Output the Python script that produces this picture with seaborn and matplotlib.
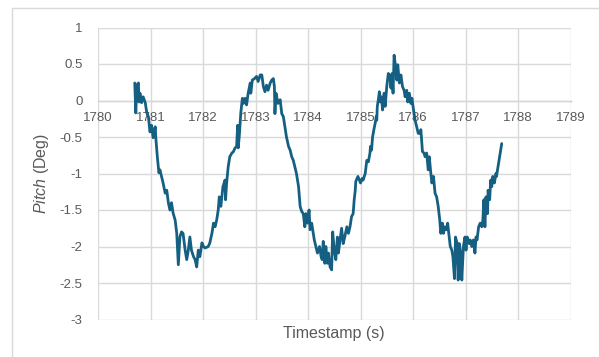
import matplotlib
matplotlib.use('Agg')
import matplotlib.pyplot as plt
import seaborn as sns
from matplotlib.lines import Line2D

# Pitch readings (timestamp in s, pitch in degrees)
timestamps = [
    1780.70, 1780.72, 1780.74, 1780.77, 1780.78, 1780.80, 1780.83, 1780.86, 1780.90, 1780.93,
    1780.96, 1780.99, 1781.02, 1781.05, 1781.09, 1781.10, 1781.13, 1781.16, 1781.18, 1781.21,
    1781.24, 1781.28, 1781.31, 1781.34, 1781.37, 1781.40, 1781.43, 1781.47, 1781.50, 1781.53,
    1781.56, 1781.59, 1781.62, 1781.66, 1781.69, 1781.72, 1781.75, 1781.78, 1781.82, 1781.85,
    1781.88, 1781.91, 1781.94, 1781.98, 1782.01, 1782.04, 1782.10, 1782.13, 1782.17, 1782.20,
    1782.23, 1782.26, 1782.29, 1782.31, 1782.34, 1782.38, 1782.42, 1782.43, 1782.45, 1782.48,
    1782.51, 1782.55, 1782.58, 1782.61, 1782.64, 1782.66, 1782.67, 1782.69, 1782.72, 1782.75,
    1782.77, 1782.80, 1782.83, 1782.86, 1782.90, 1782.91, 1782.94, 1782.98, 1783.02, 1783.05,
    1783.09, 1783.12, 1783.15, 1783.18, 1783.21, 1783.24, 1783.28, 1783.31, 1783.34, 1783.36,
    1783.37, 1783.39, 1783.43, 1783.47, 1783.50, 1783.53, 1783.56, 1783.59, 1783.63, 1783.66,
    1783.69, 1783.72, 1783.75, 1783.78, 1783.82, 1783.85, 1783.88, 1783.91, 1783.94, 1783.96,
    1783.99, 1784.02, 1784.04, 1784.07, 1784.10, 1784.12, 1784.15, 1784.18, 1784.22, 1784.25,
    1784.27, 1784.29, 1784.32, 1784.34, 1784.37, 1784.39, 1784.42, 1784.45, 1784.47, 1784.50,
    1784.53, 1784.56, 1784.58, 1784.61, 1784.64, 1784.67, 1784.70, 1784.74, 1784.77, 1784.80,
    1784.83, 1784.86, 1784.88, 1784.90, 1784.91, 1784.95, 1784.98, 1785.00, 1785.03, 1785.05,
    1785.09, 1785.12, 1785.15, 1785.18, 1785.19, 1785.21, 1785.23, 1785.26, 1785.28, 1785.30,
    1785.31, 1785.32, 1785.34, 1785.36, 1785.38, 1785.40, 1785.42, 1785.45, 1785.47, 1785.50,
    1785.53, 1785.56, 1785.58, 1785.60, 1785.62, 1785.64, 1785.67, 1785.69, 1785.71, 1785.74,
    1785.77, 1785.80, 1785.83, 1785.85, 1785.88, 1785.90, 1785.93, 1785.96, 1785.98, 1786.01,
    1786.04, 1786.07, 1786.10, 1786.13, 1786.15, 1786.18, 1786.21, 1786.23, 1786.26, 1786.29,
    1786.31, 1786.34, 1786.36, 1786.39, 1786.42, 1786.45, 1786.48, 1786.51, 1786.53, 1786.56,
    1786.58, 1786.61, 1786.64, 1786.66, 1786.69, 1786.71, 1786.74, 1786.76, 1786.79, 1786.81,
    1786.84, 1786.86, 1786.88, 1786.91, 1786.93, 1786.96, 1786.99, 1787.01, 1787.03, 1787.07,
    1787.09, 1787.12, 1787.15, 1787.18, 1787.20, 1787.22, 1787.25, 1787.28, 1787.31, 1787.33,
    1787.35, 1787.37, 1787.39, 1787.42, 1787.43, 1787.46, 1787.48, 1787.50, 1787.52, 1787.55,
    1787.58, 1787.59, 1787.63, 1787.66, 1787.69,
]

pitch = [
    0.24, -0.17, 0.21, 0.24, -0.02, 0.10, -0.03, 0.05, -0.03, -0.17,
    -0.22, -0.43, -0.34, -0.51, -0.36, -0.50, -0.77, -0.99, -0.95, -1.04,
    -1.13, -1.27, -1.23, -1.40, -1.50, -1.40, -1.54, -1.64, -1.82, -2.25,
    -1.87, -1.80, -1.82, -2.05, -2.18, -2.05, -1.87, -2.05, -2.14, -2.18,
    -2.28, -2.05, -2.14, -1.95, -2.00, -2.02, -2.00, -1.95, -1.82, -1.68,
    -1.73, -1.64, -1.50, -1.32, -1.45, -1.18, -1.09, -1.36, -1.13, -0.91,
    -0.77, -0.72, -0.70, -0.65, -0.63, -0.34, -0.65, -0.50, -0.17, 0.03,
    -0.04, 0.03, -0.06, 0.10, 0.24, 0.10, 0.28, 0.30, 0.33, 0.26,
    0.35, 0.35, 0.19, 0.12, 0.21, 0.14, 0.24, 0.28, 0.30, 0.19,
    -0.18, 0.10, -0.04, 0.01, -0.18, -0.22, -0.36, -0.50, -0.63, -0.68,
    -0.77, -0.82, -0.91, -1.00, -1.18, -1.45, -1.52, -1.55, -1.73, -1.55,
    -1.68, -1.50, -1.77, -1.68, -1.82, -1.91, -2.00, -2.09, -2.00, -2.14,
    -2.18, -1.93, -2.23, -2.00, -2.23, -2.09, -2.28, -2.32, -1.80, -2.05,
    -2.18, -1.87, -2.09, -1.91, -1.75, -1.96, -1.87, -1.73, -1.82, -1.73,
    -1.59, -1.55, -1.36, -1.23, -1.11, -1.04, -1.09, -1.13, -1.07, -1.09,
    -1.00, -0.82, -0.84, -0.72, -0.63, -0.68, -0.50, -0.38, -0.31, -0.22,
    -0.27, -0.08, 0.01, 0.12, -0.02, 0.05, -0.13, 0.10, -0.08, 0.19,
    0.37, 0.33, 0.17, 0.37, 0.10, 0.62, 0.46, 0.28, 0.49, 0.24,
    0.35, 0.19, 0.14, 0.05, 0.14, -0.02, 0.10, -0.04, 0.03, -0.13,
    -0.27, -0.36, -0.45, -0.45, -0.40, -0.70, -0.72, -0.77, -0.72, -0.95,
    -0.77, -1.00, -1.13, -1.04, -1.27, -1.32, -1.45, -1.64, -1.82, -1.68,
    -1.82, -1.73, -1.77, -1.68, -1.87, -2.00, -2.05, -2.14, -2.44, -1.87,
    -1.96, -2.46, -1.96, -2.09, -2.46, -2.00, -1.87, -2.05, -1.87, -1.96,
    -1.91, -2.00, -1.91, -2.09, -1.87, -1.91, -1.73, -1.68, -1.73, -1.64,
    -1.36, -1.73, -1.32, -1.55, -1.23, -1.36, -1.09, -1.18, -1.04, -1.13,
    -1.00, -1.04, -0.86, -0.72, -0.59,
]

x_ticks = [1780, 1781, 1782, 1783, 1784, 1785, 1786, 1787, 1788, 1789]
y_ticks = [1, 0.5, 0, -0.5, -1, -1.5, -2, -2.5, -3]
y_tick_labels = ['1', '0.5', '0', '-0.5', '-1', '-1.5', '-2', '-2.5', '-3']

sns.set_theme(style='whitegrid')
plt.rcParams['font.family'] = ['Liberation Sans', 'DejaVu Sans']
plt.rcParams['mathtext.fontset'] = 'custom'
plt.rcParams['mathtext.it'] = 'Liberation Sans:italic'
plt.rcParams['mathtext.rm'] = 'Liberation Sans'
plt.rcParams['axes.unicode_minus'] = False

fig = plt.figure(figsize=(5.99, 3.57), dpi=100)
ax = fig.add_axes([98 / 599, 1 - 319.5 / 357, 472.5 / 599, 292 / 357])

sns.lineplot(x=timestamps, y=pitch, ax=ax, color='#156082', linewidth=2.0,
             estimator=None, sort=False)

ax.set_xlim(1780, 1789)
ax.set_ylim(-3, 1)
ax.set_xticks(x_ticks)
ax.set_xticklabels([str(t) for t in x_ticks])
ax.set_yticks(y_ticks)
ax.set_yticklabels(y_tick_labels)

ax.grid(True, color='#d9d9d9', linewidth=1.0)
ax.set_axisbelow(True)
for side in ['top', 'right', 'left']:
    ax.spines[side].set_visible(False)
# horizontal axis crosses at zero, like the Excel chart
ax.spines['bottom'].set_position(('data', 0))
ax.spines['bottom'].set_color('#bfbfbf')
ax.spines['bottom'].set_linewidth(1.0)
ax.spines['bottom'].set_zorder(0.5)

ax.tick_params(axis='x', length=0, pad=8, labelsize=9.5, colors='#595959')
ax.tick_params(axis='y', length=0, pad=11, labelsize=9.5, colors='#595959')

ax.set_xlabel('Timestamp (s)', fontsize=11.5, color='#595959')
ax.xaxis.set_label_coords(0.5, -0.022)
ax.set_ylabel(r'$\mathit{Pitch}$ (Deg)', fontsize=11.5, color='#595959')
ax.yaxis.set_label_coords(-0.1, 0.5)

# light chart border (top and left visible in the crop)
fig.add_artist(Line2D([12 / 599, 1.0], [1 - 8 / 357, 1 - 8 / 357],
                      transform=fig.transFigure, color='#d9d9d9', linewidth=1.0))
fig.add_artist(Line2D([12 / 599, 12 / 599], [0.0, 1 - 8 / 357],
                      transform=fig.transFigure, color='#d9d9d9', linewidth=1.0))

fig.savefig('out.png', dpi=100)
